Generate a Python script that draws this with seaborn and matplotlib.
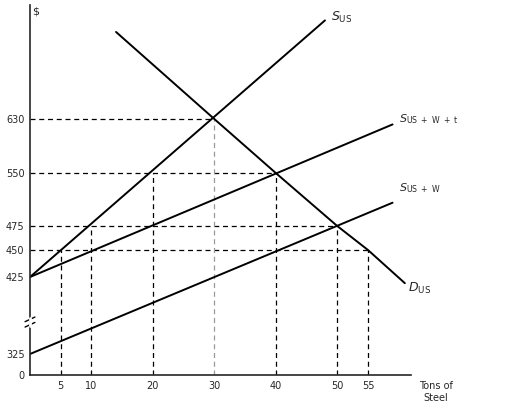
import matplotlib
matplotlib.use("Agg")
import matplotlib.pyplot as plt
import numpy as np
import seaborn as sns

sns.set_style("white")
plt.rcParams['font.family'] = ['DejaVu Sans']

s_us_x = [0, 48]
s_us_y = [425, 758]
s_wt_x = [0, 59]
s_wt_y = [425, 622]
s_w_x = [0, 59]
s_w_y = [325, 508]
d_x = [14, 30, 40, 50, 55, 61]
d_y = [743, 630, 550, 475, 450, 417]

h_levels = [630, 550, 475, 450]
h_ends = [30, 40, 50, 55]
v_pos = [5, 10, 20, 30, 40, 50, 55]
v_tops = [450, 475, 550, 630, 550, 475, 450]

x_ticks = [5, 10, 20, 30, 40, 50, 55]
y_ticks = [298, 325, 425, 450, 475, 550, 630]
y_labels = ["0", "325", "425", "450", "475", "550", "630"]

# schematic (non-uniform) price axis as drawn in the figure
scale_vals = np.array([280, 298, 325, 425, 450, 475, 550, 630, 800])
scale_pix = np.array([389, 375, 354, 277, 250, 226, 173, 119, -12])


def fwd(v):
    return -np.interp(v, scale_vals, scale_pix)


def inv(p):
    return np.interp(-p, scale_pix[::-1], scale_vals[::-1])


fig = plt.figure(figsize=(5.23, 4.15), dpi=100)
ax = fig.add_axes([30 / 523, 40 / 415, 381 / 523, 370 / 415])
ax.set_yscale("function", functions=(fwd, inv))
ax.set_xlim(0, 62)
ax.set_ylim(298, 778)

for lvl, xe in zip(h_levels, h_ends):
    ax.plot([0, xe], [lvl, lvl], ls=(0, (4, 3)), color="black", lw=0.9)
for xp, yt in zip(v_pos, v_tops):
    c = "#999999" if xp == 30 else "black"
    ax.plot([xp, xp], [298, yt], ls=(0, (4, 3)), color=c, lw=0.9)

sns.lineplot(x=s_us_x, y=s_us_y, ax=ax, color="black", lw=1.4)
sns.lineplot(x=s_wt_x, y=s_wt_y, ax=ax, color="black", lw=1.4)
sns.lineplot(x=s_w_x, y=s_w_y, ax=ax, color="black", lw=1.4)
sns.lineplot(x=d_x, y=d_y, ax=ax, color="black", lw=1.4, sort=False)

ax.text(49, 762, r"$S_{\rm US}$", fontsize=9, va="center")
ax.text(60, 630, r"$S_{\rm US\ +\ W\ +\ t}$", fontsize=8, va="center")
ax.text(60, 528, r"$S_{\rm US\ +\ W}$", fontsize=8, va="center")
ax.text(61.5, 410, r"$D_{\rm US}$", fontsize=9, va="center")

for sp in ["top", "right"]:
    ax.spines[sp].set_visible(False)
ax.spines["left"].set_linewidth(1.2)
ax.spines["bottom"].set_linewidth(1.2)
ax.set_xticks(x_ticks)
ax.set_xticklabels([str(v) for v in x_ticks], fontsize=7)
ax.set_yticks(y_ticks)
ax.set_yticklabels(y_labels, fontsize=7)
ax.yaxis.set_minor_locator(matplotlib.ticker.NullLocator())
ax.tick_params(length=0, pad=4)

# axis break marks
ax.plot([-0.8, 0.8], [360, 366], color="black", lw=1, clip_on=False)
ax.plot([-0.8, 0.8], [367, 373], color="black", lw=1, clip_on=False)
ax.plot([0, 0], [361.5, 371.5], color="white", lw=2, clip_on=False, zorder=5)

ax.text(0.4, 776, "$", fontsize=8, ha="left", va="top")
ax.text(66, 298 - 8, "Tons of\nSteel", fontsize=7, ha="center", va="top")

fig.savefig("out.png", dpi=100)
